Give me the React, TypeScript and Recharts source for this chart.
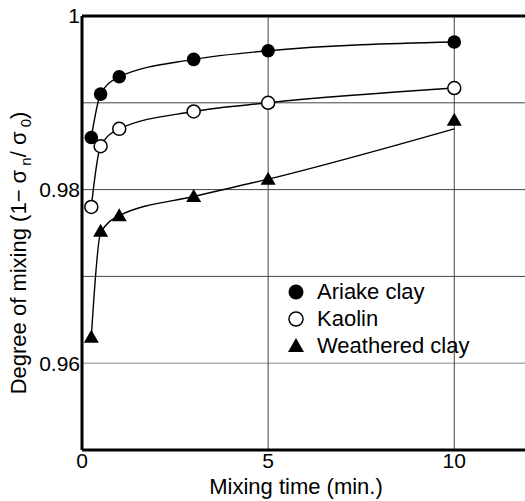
import React from 'react';
import { ComposedChart, Line, XAxis, YAxis, ReferenceLine } from 'recharts';

// mixing time (min.) and degree of mixing
const times = [0.25, 0.5, 1, 3, 5, 10];
const ariake = [0.986, 0.991, 0.993, 0.995, 0.996, 0.997];
const kaolin = [0.978, 0.985, 0.987, 0.989, 0.99, 0.9917];
const weathered = [0.963, 0.9752, 0.977, 0.9792, 0.9812, 0.988];
const weatheredFit = [0.963, 0.975, 0.977, 0.9792, 0.9812, 0.987];

const xTicks = [0, 5, 10];
const yTicks = [0.96, 0.98, 1];
const yGrid = [0.96, 0.97, 0.98, 0.99];
const xGrid = [5, 10];
const legendItems = ['Ariake clay', 'Kaolin', 'Weathered clay'];

const data = times.map((t, i) => ({
  t,
  ariake: ariake[i],
  kaolin: kaolin[i],
  weathered: weathered[i],
  weatheredFit: weatheredFit[i],
}));

const FONT = '"Liberation Sans", Arial, Helvetica, sans-serif';

const FilledDot = (props: any) => {
  const { cx, cy } = props;
  if (cx == null || cy == null) return null;
  return <circle cx={cx} cy={cy} r={6.8} fill="#000" />;
};

const OpenDot = (props: any) => {
  const { cx, cy } = props;
  if (cx == null || cy == null) return null;
  return <circle cx={cx} cy={cy} r={6.5} fill="#fff" stroke="#000" strokeWidth={1.5} />;
};

const TriDot = (props: any) => {
  const { cx, cy } = props;
  if (cx == null || cy == null) return null;
  return <polygon points={`${cx},${cy - 7.5} ${cx + 7.5},${cy + 5.5} ${cx - 7.5},${cy + 5.5}`} fill="#000" />;
};

const YLabel = () => (
  <text transform="rotate(-90)" x={-253} y={26} textAnchor="middle" fontSize={22} fontFamily={FONT} fill="#000">
    <tspan>Degree of mixing (1− σ</tspan>
    <tspan dy={5} fontSize={15}> n</tspan>
    <tspan dy={-5}>/ σ</tspan>
    <tspan dy={5} fontSize={15}> 0</tspan>
    <tspan dy={-5}>)</tspan>
  </text>
);

const XLabel = () => (
  <text x={296} y={494} textAnchor="middle" fontSize={22} fontFamily={FONT} fill="#000">
    Mixing time (min.)
  </text>
);

const LegendBox = () => (
  <div
    style={{
      position: 'absolute',
      left: 286,
      top: 278,
      fontFamily: FONT,
      fontSize: 22,
      color: '#000',
      lineHeight: '27px',
      pointerEvents: 'none',
    }}
  >
    {legendItems.map((name, i) => (
      <div key={name} style={{ display: 'flex', alignItems: 'center' }}>
        <svg width={22} height={20} style={{ marginRight: 9 }}>
          {i === 0 && <circle cx={10} cy={10} r={7.5} fill="#000" />}
          {i === 1 && <circle cx={10} cy={10} r={7} fill="#fff" stroke="#000" strokeWidth={1.5} />}
          {i === 2 && <polygon points="10,2 18,16 2,16" fill="#000" />}
        </svg>
        <span>{name}</span>
      </div>
    ))}
  </div>
);

export default function App() {
  return (
    <div style={{ position: 'relative', width: 525, height: 501 }}>
      <style>{'body{margin:0}'}</style>
      <ComposedChart width={525} height={501} data={data} margin={{ top: 16, right: 0, left: 0, bottom: 0 }}>
        {yGrid.map((v) => (
          <ReferenceLine key={`h${v}`} y={v} stroke={v === 0.96 ? '#888' : '#444'} strokeWidth={1} />
        ))}
        {xGrid.map((v) => (
          <ReferenceLine key={`v${v}`} x={v} stroke="#444" strokeWidth={1} />
        ))}
        <ReferenceLine y={1} stroke="#000" strokeWidth={3} />
        <XAxis
          type="number"
          dataKey="t"
          domain={[0, 11.9]}
          ticks={xTicks}
          allowDataOverflow
          height={51}
          axisLine={{ stroke: '#000', strokeWidth: 3 }}
          tickLine={false}
          tickSize={0}
          tickMargin={3}
          tick={{ fontSize: 21, fill: '#000', fontFamily: FONT }}
          label={{ content: XLabel }}
        />
        <YAxis
          type="number"
          domain={[0.95, 1]}
          ticks={yTicks}
          allowDataOverflow
          width={82}
          axisLine={{ stroke: '#000', strokeWidth: 3 }}
          tickLine={false}
          tickSize={0}
          tickMargin={2}
          tickFormatter={(v: number) => (v === 1 ? '1' : v.toFixed(2))}
          tick={{ fontSize: 21, fill: '#000', fontFamily: FONT }}
          label={{ content: YLabel }}
        />
        <Line type="monotone" dataKey="ariake" stroke="#000" strokeWidth={1.4} dot={<FilledDot />} activeDot={false} isAnimationActive={false} />
        <Line type="monotone" dataKey="kaolin" stroke="#000" strokeWidth={1.4} dot={<OpenDot />} activeDot={false} isAnimationActive={false} />
        <Line type="monotone" dataKey="weatheredFit" stroke="#000" strokeWidth={1.4} dot={false} activeDot={false} isAnimationActive={false} />
        <Line type="monotone" dataKey="weathered" stroke="none" dot={<TriDot />} activeDot={false} isAnimationActive={false} />
      </ComposedChart>
      <LegendBox />
    </div>
  );
}
